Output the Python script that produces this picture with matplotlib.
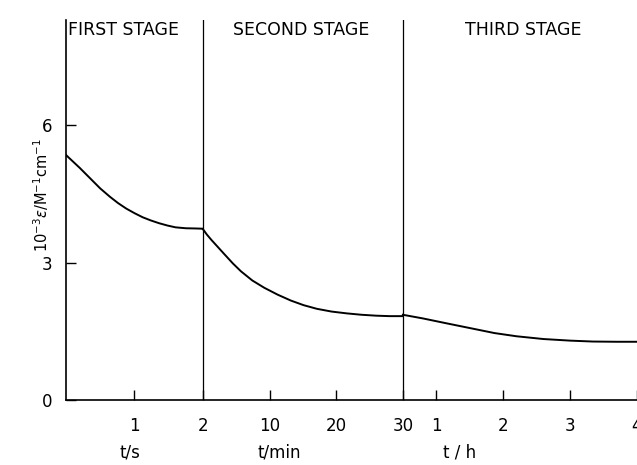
import numpy as np
import matplotlib.pyplot as plt

# =========================
# DATA
# =========================
# first stage, time in seconds
t1_s = [0, 0.1, 0.2, 0.3, 0.4, 0.5, 0.64, 0.76, 0.88, 1.0, 1.12, 1.24,
        1.36, 1.48, 1.6, 1.75, 1.9, 2.0]
eps1 = [5.35, 5.21, 5.07, 4.92, 4.77, 4.62, 4.44, 4.30, 4.18, 4.08, 3.99,
        3.92, 3.86, 3.81, 3.77, 3.75, 3.745, 3.74]

# second stage, time in minutes
t2_min = [0, 0.6, 1.3, 2.3, 3.3, 4.5, 5.7, 7.4, 9.2, 11.2, 13.2, 15.1,
          17.1, 19.3, 21.6, 23.8, 26.0, 28.0, 30.0]
eps2 = [3.73, 3.61, 3.49, 3.33, 3.17, 2.98, 2.81, 2.61, 2.45, 2.30, 2.17,
        2.07, 1.99, 1.93, 1.89, 1.86, 1.84, 1.83, 1.83]

# third stage, time in hours
t3_h = [0.5, 0.8, 1.13, 1.5, 1.87, 2.2, 2.6, 3.0, 3.34, 3.7, 4.1]
eps3 = [1.86, 1.78, 1.68, 1.57, 1.46, 1.39, 1.33, 1.295, 1.275, 1.27, 1.27]

stage_names = ["FIRST STAGE", "SECOND STAGE", "THIRD STAGE"]

ticks1 = [1, 2]
ticks2 = [10, 20, 30]
ticks3 = [1, 2, 3, 4]
y_ticks = [0, 3, 6]


# =========================
# STAGE -> COMMON AXIS
# =========================
def pos1(t):
    return np.asarray(t, dtype=float)


def pos2(t):
    return 2 + np.asarray(t, dtype=float) * 0.0973


def pos3(t):
    return pos2(30) + (np.asarray(t, dtype=float) - 0.5) * 0.977


x_end = 8.24
y_top = 8.3

fig = plt.figure(figsize=(6.37, 4.65), dpi=100)
ax = fig.add_axes([0.1036, 0.14, 1 - 0.1036, 0.957 - 0.14])

ax.plot(pos1(t1_s), eps1, color="black", lw=1.4)
ax.plot(pos2(t2_min), eps2, color="black", lw=1.4)
ax.plot(pos3(t3_h), eps3, color="black", lw=1.4)
# small step where the third stage joins on
ax.plot([pos2(30), pos3(0.5)], [eps2[-1], eps3[0]], color="black", lw=1.4)

# stage dividers
for xd in [pos1(2), pos2(30)]:
    ax.plot([xd, xd], [0, y_top], color="black", lw=0.9)

ax.set_xlim(0, x_end)
ax.set_ylim(0, y_top)

for s in ["top", "right"]:
    ax.spines[s].set_visible(False)
ax.spines["left"].set_linewidth(1.2)
ax.spines["bottom"].set_linewidth(1.2)

xt = list(pos1(ticks1)) + list(pos2(ticks2)) + list(pos3(ticks3))
xl = [str(v) for v in ticks1] + [str(v) for v in ticks2] + [str(v) for v in ticks3]
ax.set_xticks(xt)
ax.set_xticklabels(xl)
ax.set_yticks(y_ticks)
ax.tick_params(axis="both", direction="in", length=7, width=1, labelsize=12)
ax.tick_params(axis="x", pad=12)
ax.tick_params(axis="y", pad=10)

# axis labels under each stage
ax.text(pos1(0.93), -1.15, "t/s", ha="center", va="center", fontsize=12)
ax.text(pos2(11.5), -1.15, "t/min", ha="center", va="center", fontsize=12)
ax.text(pos3(1.35), -1.15, "t / h", ha="center", va="center", fontsize=12)

ax.set_ylabel(r"$10^{-3}\varepsilon/\mathrm{M}^{-1}\mathrm{cm}^{-1}$", fontsize=10.5)
ax.yaxis.set_label_coords(-0.027, 0.54)

# stage titles
ax.text(0.03, y_top - 0.02, stage_names[0], ha="left", va="top", fontsize=12.5)
ax.text(pos2(14.7), y_top - 0.02, stage_names[1], ha="center", va="top", fontsize=12.5)
ax.text(pos3(2.3), y_top - 0.02, stage_names[2], ha="center", va="top", fontsize=12.5)

fig.savefig("out.png", dpi=100)
